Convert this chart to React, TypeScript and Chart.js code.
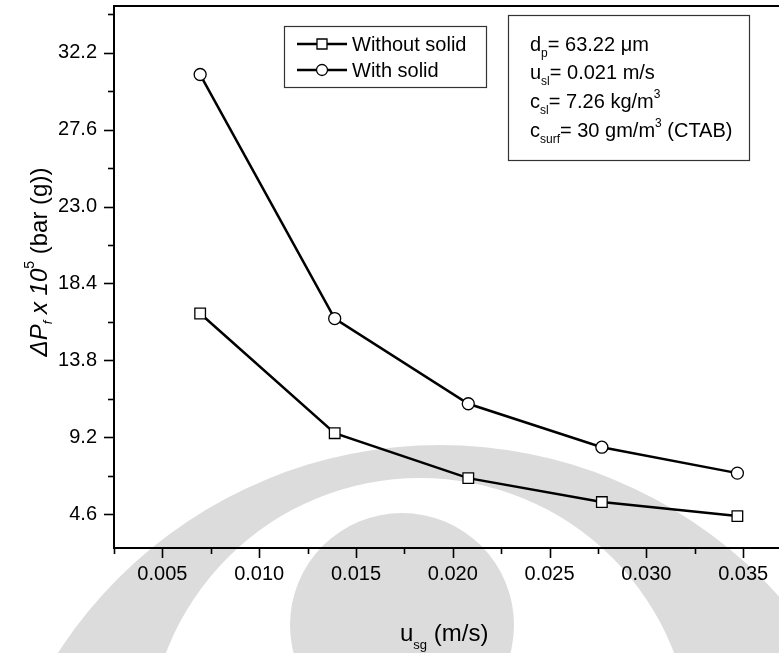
import { useEffect, useRef } from 'react';
import { Chart, registerables } from 'chart.js';

Chart.register(...registerables);

// ---- Data ----
const X_VALUES = [0.00695, 0.0139, 0.0208, 0.0277, 0.0347];
const WITHOUT_SOLID = [16.6, 9.44, 6.75, 5.32, 4.48];
const WITH_SOLID = [30.9, 16.3, 11.2, 8.6, 7.05];
const SERIES_LABELS = ['Without solid', 'With solid'];
const X_TICKS = [0.005, 0.01, 0.015, 0.02, 0.025, 0.03, 0.035];
const Y_TICKS = [4.6, 9.2, 13.8, 18.4, 23.0, 27.6, 32.2];
const X_MIN = 0.0025;
const X_MAX = 0.03685;
const Y_MIN = 2.57;
const Y_MAX = 35.0;

const FONT = '"Liberation Sans", Arial, Helvetica, sans-serif';

type Seg = { t: string; size: number; italic?: boolean; dy?: number };

function setFont(ctx: CanvasRenderingContext2D, s: Seg) {
  ctx.font = `${s.italic ? 'italic ' : ''}${s.size}px ${FONT}`;
}
function segsWidth(ctx: CanvasRenderingContext2D, segs: Seg[]) {
  let w = 0;
  for (const s of segs) {
    setFont(ctx, s);
    w += ctx.measureText(s.t).width;
  }
  return w;
}
function drawSegs(ctx: CanvasRenderingContext2D, segs: Seg[], x: number, y: number) {
  let cx = x;
  for (const s of segs) {
    setFont(ctx, s);
    ctx.fillText(s.t, cx, y + (s.dy || 0));
    cx += ctx.measureText(s.t).width;
  }
  return cx;
}

function drawMarker(ctx: CanvasRenderingContext2D, style: string, x: number, y: number) {
  ctx.save();
  ctx.fillStyle = '#fff';
  ctx.strokeStyle = '#000';
  ctx.lineWidth = 1.3;
  ctx.beginPath();
  if (style === 'rect') {
    ctx.rect(x - 5, y - 5, 10, 10);
  } else {
    ctx.arc(x, y, 5.5, 0, Math.PI * 2);
  }
  ctx.fill();
  ctx.stroke();
  ctx.restore();
}

const decorPlugin = {
  id: 'decor',
  beforeDraw(chart: any) {
    const ctx: CanvasRenderingContext2D = chart.ctx;
    ctx.save();
    ctx.fillStyle = '#ffffff';
    ctx.fillRect(0, 0, chart.width, chart.height);
    // faint watermark emblem
    ctx.fillStyle = '#dcdcdc';
    ctx.beginPath();
    ctx.arc(440, 900, 455, 0, Math.PI * 2);
    ctx.arc(420, 750, 272, 0, Math.PI * 2);
    ctx.fill('evenodd');
    ctx.beginPath();
    ctx.arc(402, 625, 112, 0, Math.PI * 2);
    ctx.fill();
    ctx.restore();
  },
  afterDraw(chart: any) {
    const ctx: CanvasRenderingContext2D = chart.ctx;
    const area = chart.chartArea;
    const xs = chart.scales.x;
    const ys = chart.scales.y;
    ctx.save();
    ctx.strokeStyle = '#000';
    ctx.fillStyle = '#000';

    // top frame line
    ctx.lineWidth = 2;
    ctx.beginPath();
    ctx.moveTo(area.left - 1, area.top);
    ctx.lineTo(chart.width, area.top);
    ctx.stroke();

    // tick marks (major + minor), outward
    ctx.lineWidth = 1.6;
    const xStep = X_TICKS[1] - X_TICKS[0];
    for (const v of X_TICKS) {
      const px = Math.round(xs.getPixelForValue(v)) + 0.5;
      ctx.beginPath();
      ctx.moveTo(px, area.bottom);
      ctx.lineTo(px, area.bottom + 10);
      ctx.stroke();
    }
    for (const v of [X_TICKS[0] - xStep / 2, ...X_TICKS.map((t) => t + xStep / 2)]) {
      if (v < X_MIN - 1e-9 || v > X_MAX) continue;
      const px = Math.round(xs.getPixelForValue(v)) + 0.5;
      ctx.beginPath();
      ctx.moveTo(px, area.bottom);
      ctx.lineTo(px, area.bottom + 6);
      ctx.stroke();
    }
    const yStep = Y_TICKS[1] - Y_TICKS[0];
    for (const v of Y_TICKS) {
      const py = Math.round(ys.getPixelForValue(v)) + 0.5;
      ctx.beginPath();
      ctx.moveTo(area.left, py);
      ctx.lineTo(area.left - 10, py);
      ctx.stroke();
    }
    for (const v of [Y_TICKS[0] - yStep / 2, ...Y_TICKS.map((t) => t + yStep / 2)]) {
      if (v < Y_MIN || v > Y_MAX) continue;
      const py = Math.round(ys.getPixelForValue(v)) + 0.5;
      ctx.beginPath();
      ctx.moveTo(area.left, py);
      ctx.lineTo(area.left - 6, py);
      ctx.stroke();
    }

    // legend box
    ctx.lineWidth = 1.2;
    ctx.strokeStyle = '#333';
    ctx.strokeRect(284.5, 26.5, 202, 61);
    ctx.strokeStyle = '#000';
    const ds = chart.data.datasets;
    const rows = [44, 70];
    ds.forEach((d: any, i: number) => {
      const y = rows[i];
      ctx.lineWidth = 2.5;
      ctx.beginPath();
      ctx.moveTo(297, y);
      ctx.lineTo(347, y);
      ctx.stroke();
      drawMarker(ctx, d.pointStyle, 322, y);
      ctx.fillStyle = '#000';
      ctx.font = `20px ${FONT}`;
      ctx.textBaseline = 'middle';
      ctx.textAlign = 'left';
      ctx.fillText(d.label, 352, y + 1);
    });

    // info box
    ctx.lineWidth = 1.2;
    ctx.strokeStyle = '#333';
    ctx.strokeRect(508.5, 15.5, 241, 145);
    ctx.fillStyle = '#000';
    ctx.textBaseline = 'alphabetic';
    ctx.textAlign = 'left';
    const infoLines: Seg[][] = [
      [{ t: 'd', size: 20 }, { t: 'p', size: 12, dy: 6 }, { t: '= 63.22 \u03BCm', size: 20 }],
      [{ t: 'u', size: 20 }, { t: 'sl', size: 12, dy: 6 }, { t: '= 0.021 m/s', size: 20 }],
      [{ t: 'c', size: 20 }, { t: 'sl', size: 12, dy: 6 }, { t: '= 7.26 kg/m', size: 20 }, { t: '3', size: 12, dy: -10 }],
      [
        { t: 'c', size: 20 },
        { t: 'surf', size: 12, dy: 6 },
        { t: '= 30 gm/m', size: 20 },
        { t: '3', size: 12, dy: -10 },
        { t: ' (CTAB)', size: 20 },
      ],
    ];
    const baselines = [51, 79, 108, 137];
    infoLines.forEach((segs, i) => drawSegs(ctx, segs, 530, baselines[i]));

    // x axis title
    const xTitle: Seg[] = [{ t: 'u', size: 24 }, { t: 'sg', size: 13, dy: 8 }, { t: ' (m/s)', size: 24 }];
    drawSegs(ctx, xTitle, 400, 641);

    // y axis title (rotated)
    const yTitle: Seg[] = [
      { t: '\u0394P', size: 24, italic: true },
      { t: 'f', size: 13, italic: true, dy: 5 },
      { t: ' x 10', size: 24, italic: true },
      { t: '5', size: 14, dy: -13 },
      { t: ' (bar (g))', size: 24 },
    ];
    const w = segsWidth(ctx, yTitle);
    ctx.translate(47, 262);
    ctx.rotate(-Math.PI / 2);
    drawSegs(ctx, yTitle, -w / 2, 0);
    ctx.restore();
  },
};

export default function App() {
  const ref = useRef<HTMLCanvasElement | null>(null);

  useEffect(() => {
    document.body.style.margin = '0';
    const canvas = ref.current;
    if (!canvas) return;
    const chart = new Chart(canvas, {
      type: 'line',
      data: {
        datasets: [
          {
            label: SERIES_LABELS[0],
            data: X_VALUES.map((x, i) => ({ x, y: WITHOUT_SOLID[i] })),
            borderColor: '#000',
            borderWidth: 2.5,
            pointStyle: 'rect',
            pointRadius: 7.5,
            pointBorderWidth: 1.3,
            pointBackgroundColor: '#fff',
            pointBorderColor: '#000',
            tension: 0,
            fill: false,
          },
          {
            label: SERIES_LABELS[1],
            data: X_VALUES.map((x, i) => ({ x, y: WITH_SOLID[i] })),
            borderColor: '#000',
            borderWidth: 2.5,
            pointStyle: 'circle',
            pointRadius: 6,
            pointBorderWidth: 1.3,
            pointBackgroundColor: '#fff',
            pointBorderColor: '#000',
            tension: 0,
            fill: false,
          },
        ],
      },
      options: {
        responsive: false,
        animation: false,
        devicePixelRatio: 1,
        layout: { autoPadding: false, padding: { top: 6, right: 0, left: 0, bottom: 0 } },
        plugins: {
          legend: { display: false },
          title: { display: false },
          tooltip: { enabled: false },
        },
        scales: {
          x: {
            type: 'linear',
            position: 'bottom',
            min: X_MIN,
            max: X_MAX,
            grid: { display: false, drawTicks: false },
            border: { display: true, color: '#000', width: 2 },
            ticks: {
              color: '#000',
              font: { size: 20, family: FONT },
              padding: 14,
              autoSkip: false,
              maxRotation: 0,
              callback: (v: any) => Number(v).toFixed(3),
            },
            afterBuildTicks: (scale: any) => {
              scale.ticks = X_TICKS.map((value) => ({ value }));
            },
            afterFit: (scale: any) => {
              scale.height = 105;
              scale.paddingLeft = 0;
              scale.paddingRight = 0;
            },
          },
          y: {
            type: 'linear',
            min: Y_MIN,
            max: Y_MAX,
            grid: { display: false, drawTicks: false },
            border: { display: true, color: '#000', width: 2 },
            ticks: {
              color: '#000',
              font: { size: 20, family: FONT },
              padding: 17,
              autoSkip: false,
              callback: (v: any) => Number(v).toFixed(1),
            },
            afterBuildTicks: (scale: any) => {
              scale.ticks = Y_TICKS.map((value) => ({ value }));
            },
            afterFit: (scale: any) => {
              scale.width = 114;
              scale.paddingTop = 0;
              scale.paddingBottom = 0;
            },
          },
        },
      },
      plugins: [decorPlugin],
    } as any);
    return () => chart.destroy();
  }, []);

  return (
    <div style={{ position: 'absolute', left: 0, top: 0, width: 779, height: 653, overflow: 'hidden' }}>
      <canvas ref={ref} width={779} height={653} style={{ display: 'block' }} />
    </div>
  );
}
